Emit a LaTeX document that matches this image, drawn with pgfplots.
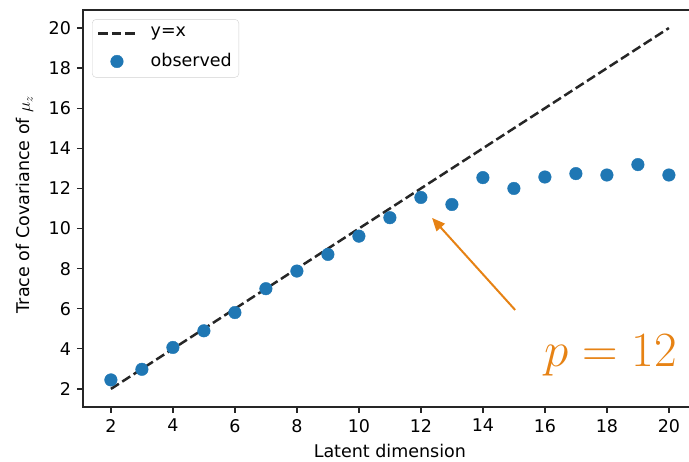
\documentclass[border=0pt]{standalone}
\usepackage{fontspec}
\setmainfont{DejaVu Sans}
\usepackage{pgfplots}
\pgfplotsset{compat=1.18}
\usetikzlibrary{arrows.meta}
\definecolor{mplblue}{HTML}{1F77B4}
\definecolor{annot}{RGB}{230,130,20}
\pgfplotsset{
    lineleg/.style={legend image code/.code={\draw[##1] (0pt,0pt) -- (37pt,0pt);}},
    dotleg/.style={legend image code/.code={\draw[##1, mark repeat=2, mark phase=2]
        plot coordinates {(0pt,0pt)(18.5pt,0pt)(37pt,0pt)};}},
}

\begin{document}
\fontsize{17.5}{21}\selectfont
\begin{tikzpicture}
\useasboundingbox (-83pt,-55pt) rectangle (606pt,407pt);
\clip (-83pt,-55pt) rectangle (606pt,407pt);
\begin{axis}[
    at={(0pt,0pt)}, anchor=south west,
    scale only axis, width=613.8pt, height=397pt,
    xmin=1.1, xmax=20.9, ymin=1.1, ymax=20.9,
    xtick={2,4,...,20}, ytick={2,4,...,20},
    tick align=outside, major tick length=6pt,
    axis line style={line width=1.3pt, black!85},
    every tick/.style={line width=1.3pt, black!85},
    xtick pos=bottom, ytick pos=left,
    /pgf/number format/assume math mode=true,
    xlabel={Latent dimension},
    ylabel={Trace of Covariance of $\mu_z$},
    every axis x label/.style={at={(axis description cs:0.5,-0.111)}, anchor=center},
    every axis y label/.style={at={(axis description cs:-0.0945,0.51)}, rotate=90, anchor=center},
    legend style={at={(axis description cs:0.0147,0.977)}, anchor=north west,
        draw=black!18, rounded corners=4pt, fill=white,
        inner xsep=5pt, inner ysep=6pt, row sep=10pt,
        /tikz/every odd column/.append style={column sep=12pt}},
    legend cell align=left,
    reverse legend,
]
\addplot[only marks, mark=*, mark size=6.3pt, mplblue,
    mark options={draw=mplblue, fill=mplblue}, dotleg]
coordinates {
    (2,2.45) (3,2.98) (4,4.07) (5,4.90) (6,5.81) (7,7.00) (8,7.88)
    (9,8.71) (10,9.62) (11,10.54) (12,11.55) (13,11.20) (14,12.54)
    (15,12.00) (16,12.57) (17,12.74) (18,12.67) (19,13.19) (20,12.67)
};
\addlegendentry{observed}
\addplot[black!85, line width=2.5pt, dash pattern=on 9.5pt off 4pt, lineleg]
coordinates {(2,2) (20,20)};
\addlegendentry{y=x}
\draw[annot, line width=2pt, -{Triangle[length=13pt,width=11pt]}]
    (axis cs:15.04,5.94) -- (axis cs:12.36,10.53);
\node[annot, scale=2.85] at (axis cs:18.13,3.69) {$p=12$};
\end{axis}
\end{tikzpicture}
\end{document}
